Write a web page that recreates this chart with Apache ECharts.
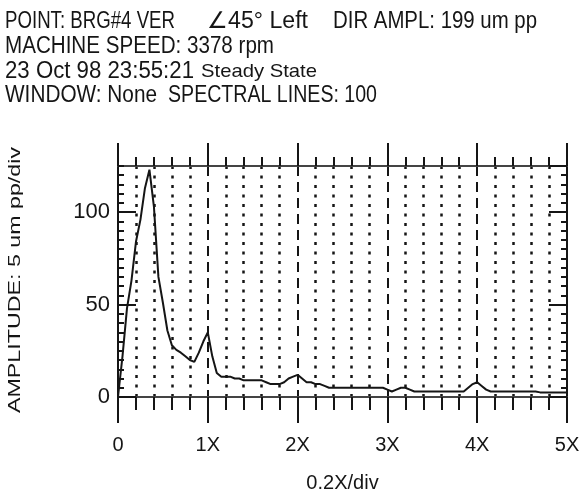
<!DOCTYPE html>
<html>
<head>
<meta charset="utf-8">
<title>Spectrum</title>
<script src="https://cdn.jsdelivr.net/npm/echarts@6/dist/echarts.min.js"></script>
<style>
  html, body { margin: 0; padding: 0; background: #fff; }
  #chart { width: 582px; height: 493px; }
</style>
</head>
<body>
<div id="chart"></div>
<script>
  // spectrum, 100 lines over 0..5X (0.05X per line)
  const freqs = [];
  for (let i = 0; i <= 100; i++) freqs.push(+(i * 0.05).toFixed(2));
  const amps = [
    0, 22, 48, 63, 84, 96, 113, 123, 103, 65,
    51, 36, 28, 25.5, 24, 22, 20, 19, 24, 30,
    35, 22, 13, 11, 11, 11, 10, 10, 9, 9,
    9, 9, 9, 8, 7, 7, 7, 8, 10, 11,
    12, 10, 8, 8, 7, 7, 6, 5, 5, 5,
    5, 5, 5, 5, 5, 5, 5, 5, 5, 5,
    4, 3, 4, 5, 5, 4, 3, 3, 3, 3,
    3, 3, 3, 3, 3, 3, 3, 3, 5, 7,
    8, 6, 4, 3, 3, 3, 3, 3, 3, 3,
    3, 3, 3, 3, 2.5, 2.5, 2.5, 2.5, 2.5, 2.5,
    2.5
  ];
  const xTicks = ['0', '1X', '2X', '3X', '4X', '5X'];
  const yTicks = [0, 50, 100];

  const FONT = '"Liberation Sans", Arial, sans-serif';
  const INK = '#151515';

  const chart = echarts.init(document.getElementById('chart'));

  // fit a header string to the width it takes in the scan
  const ctx = document.createElement('canvas').getContext('2d');
  function fitScale(text, font, width) {
    ctx.font = font;
    return width / ctx.measureText(text).width;
  }
  function headText(text, x, y, width, size) {
    const font = size + 'px ' + FONT;
    return {
      type: 'text',
      x: x,
      y: y,
      scaleX: fitScale(text, font, width),
      style: { text: text, font: font, fill: INK, textVerticalAlign: 'middle' },
    };
  }

  const yName = 'AMPLITUDE: 5 um pp/div';
  const yNameFont = '16px ' + FONT;

  const pairs = freqs.map((f, i) => [f, amps[i]]);

  chart.setOption({
    animation: false,
    backgroundColor: '#fff',
    grid: { left: 118, right: 15, top: 166, bottom: 96, outerBoundsMode: 'none' },
    graphic: [
      headText('POINT: BRG#4 VER', 5, 22, 170, 23),
      headText('\u222045\u00b0 Left', 207, 22, 101, 23),
      headText('DIR AMPL: 199 um pp', 333, 22, 204, 23),
      headText('MACHINE SPEED: 3378 rpm', 5, 47, 269, 23),
      headText('23 Oct 98 23:55:21', 5, 72, 189, 23),
      headText('Steady State', 201, 72, 116, 19),
      headText('WINDOW: None', 5, 96, 152, 23),
      headText('SPECTRAL LINES: 100', 168, 96, 209, 23),
      {
        type: 'text',
        x: 16,
        y: 280,
        rotation: Math.PI / 2,
        scaleX: fitScale(yName, yNameFont, 266),
        style: {
          text: yName,
          font: yNameFont,
          fill: INK,
          textAlign: 'center',
          textVerticalAlign: 'middle',
        },
      },
    ],
    xAxis: [
      {
        type: 'value',
        min: 0,
        max: 5,
        interval: 1,
        name: '0.2X/div',
        nameLocation: 'middle',
        nameGap: 76,
        nameTextStyle: { fontFamily: FONT, fontSize: 20, color: INK },
        axisLine: { show: true, onZero: false, lineStyle: { color: '#444', width: 2 } },
        axisTick: { show: true, length: 26, lineStyle: { color: INK, width: 2 } },
        minorTick: { show: true, splitNumber: 5, length: 13, lineStyle: { color: INK, width: 2 } },
        axisLabel: {
          fontFamily: FONT,
          fontSize: 20,
          color: INK,
          margin: 38,
          formatter: (v) => xTicks[Math.round(v)],
        },
        splitLine: { show: true, lineStyle: { color: INK, width: 2, type: [10, 6] } },
        minorSplitLine: { show: true, lineStyle: { color: INK, width: 2.5, type: [3, 6.5] } },
      },
      {
        type: 'value',
        position: 'top',
        min: 0,
        max: 5,
        interval: 1,
        axisLine: { show: true, onZero: false, lineStyle: { color: '#444', width: 2 } },
        axisTick: { show: true, length: 23, lineStyle: { color: INK, width: 2 } },
        minorTick: { show: true, splitNumber: 5, length: 9, lineStyle: { color: INK, width: 2 } },
        axisLabel: { show: false },
        splitLine: { show: false },
      },
    ],
    yAxis: [
      {
        type: 'value',
        position: 'left',
        min: 0,
        max: 125,
        interval: 50,
        axisLine: { show: true, onZero: false, lineStyle: { color: INK, width: 2 } },
        axisTick: { show: true, inside: true, length: 18, lineStyle: { color: INK, width: 2 } },
        axisLabel: {
          fontFamily: FONT,
          fontSize: 22,
          color: INK,
          margin: 8,
          showMaxLabel: false,
          formatter: (v) => (yTicks.indexOf(v) >= 0 ? String(v) : ''),
        },
        splitLine: { show: false },
      },
      {
        type: 'value',
        position: 'left',
        min: 0,
        max: 125,
        interval: 5,
        axisLine: { show: true, onZero: false, lineStyle: { color: INK, width: 2 } },
        axisTick: { show: true, inside: true, length: 6, lineStyle: { color: INK, width: 2 } },
        axisLabel: { show: false },
        splitLine: { show: false },
      },
      {
        type: 'value',
        position: 'right',
        min: 0,
        max: 125,
        interval: 50,
        axisLine: { show: true, onZero: false, lineStyle: { color: INK, width: 2 } },
        axisTick: { show: true, inside: true, length: 18, lineStyle: { color: INK, width: 2 } },
        axisLabel: { show: false },
        splitLine: { show: false },
      },
      {
        type: 'value',
        position: 'right',
        min: 0,
        max: 125,
        interval: 5,
        axisLine: { show: true, onZero: false, lineStyle: { color: INK, width: 2 } },
        axisTick: { show: true, inside: true, length: 6, lineStyle: { color: INK, width: 2 } },
        axisLabel: { show: false },
        splitLine: { show: false },
      },
    ],
    series: [
      {
        name: 'Amplitude',
        type: 'line',
        xAxisIndex: 0,
        yAxisIndex: 0,
        data: pairs,
        showSymbol: false,
        symbol: 'none',
        lineStyle: { color: INK, width: 2 },
        z: 5,
      },
    ],
  });
</script>
</body>
</html>
